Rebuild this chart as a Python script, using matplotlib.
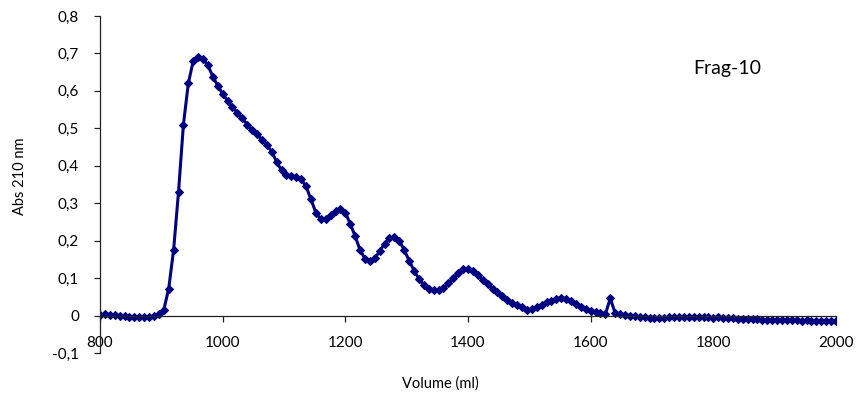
import matplotlib.pyplot as plt
from matplotlib.ticker import FixedLocator, FixedFormatter

plt.rcParams['font.family'] = ['Lato', 'DejaVu Sans']

# elution volume (ml), one fraction every 8 ml
volumes = [
    800, 808, 816, 824, 832, 840, 848, 856, 864, 872, 880, 888, 896, 904, 912, 920,
    928, 936, 944, 952, 960, 968, 976, 984, 992, 1000, 1008, 1016, 1024, 1032, 1040, 1048,
    1056, 1064, 1072, 1080, 1088, 1096, 1104, 1112, 1120, 1128, 1136, 1144, 1152, 1160, 1168, 1176,
    1184, 1192, 1200, 1208, 1216, 1224, 1232, 1240, 1248, 1256, 1264, 1272, 1280, 1288, 1296, 1304,
    1312, 1320, 1328, 1336, 1344, 1352, 1360, 1368, 1376, 1384, 1392, 1400, 1408, 1416, 1424, 1432,
    1440, 1448, 1456, 1464, 1472, 1480, 1488, 1496, 1504, 1512, 1520, 1528, 1536, 1544, 1552, 1560,
    1568, 1576, 1584, 1592, 1600, 1608, 1616, 1624, 1632, 1640, 1648, 1656, 1664, 1672, 1680, 1688,
    1696, 1704, 1712, 1720, 1728, 1736, 1744, 1752, 1760, 1768, 1776, 1784, 1792, 1800, 1808, 1816,
    1824, 1832, 1840, 1848, 1856, 1864, 1872, 1880, 1888, 1896, 1904, 1912, 1920, 1928, 1936, 1944,
    1952, 1960, 1968, 1976, 1984, 1992, 2000,
]

# absorbance at 210 nm
absorbance = [
    0.002, 0.003, 0.002, 0.001, 0.000, -0.002, -0.004, -0.004, -0.004, -0.004, -0.004, -0.002, 0.003, 0.015, 0.072, 0.175,
    0.330, 0.510, 0.620, 0.680, 0.691, 0.686, 0.668, 0.638, 0.614, 0.592, 0.574, 0.556, 0.542, 0.527, 0.510, 0.495,
    0.484, 0.470, 0.456, 0.438, 0.410, 0.388, 0.376, 0.372, 0.371, 0.364, 0.345, 0.310, 0.275, 0.257, 0.258, 0.268,
    0.279, 0.284, 0.275, 0.245, 0.212, 0.175, 0.152, 0.145, 0.153, 0.172, 0.192, 0.206, 0.210, 0.200, 0.175, 0.147,
    0.120, 0.098, 0.082, 0.072, 0.067, 0.068, 0.074, 0.086, 0.100, 0.114, 0.123, 0.125, 0.120, 0.108, 0.095, 0.083,
    0.072, 0.062, 0.051, 0.042, 0.033, 0.027, 0.022, 0.016, 0.017, 0.022, 0.029, 0.035, 0.040, 0.045, 0.048, 0.045,
    0.038, 0.031, 0.024, 0.017, 0.013, 0.009, 0.006, 0.004, 0.046, 0.006, 0.004, 0.002, 0.000, -0.002, -0.004, -0.005,
    -0.006, -0.006, -0.006, -0.006, -0.005, -0.004, -0.005, -0.004, -0.004, -0.004, -0.005, -0.004, -0.005, -0.006, -0.004, -0.006,
    -0.007, -0.007, -0.008, -0.009, -0.008, -0.010, -0.010, -0.011, -0.011, -0.012, -0.012, -0.012, -0.013, -0.013, -0.013, -0.014,
    -0.013, -0.014, -0.014, -0.014, -0.014, -0.014, -0.014,
]

y_ticks = [-0.1, 0, 0.1, 0.2, 0.3, 0.4, 0.5, 0.6, 0.7, 0.8]
y_labels = ["-0,1", "0", "0,1", "0,2", "0,3", "0,4", "0,5", "0,6", "0,7", "0,8"]
x_ticks = [800, 1000, 1200, 1400, 1600, 1800, 2000]
x_labels = ["800", "1000", "1200", "1400", "1600", "1800", "2000"]


def main():
    fig = plt.figure(figsize=(8.59, 4.05), dpi=100)
    ax = fig.add_axes([100 / 859, 52 / 405, 736 / 859, 337 / 405])

    ax.plot(volumes, absorbance, color='#000080', linewidth=2.2,
            marker='D', markersize=3.8, markeredgewidth=0.8)

    ax.set_xlim(800, 2000)
    ax.set_ylim(-0.1, 0.8)

    ax.spines['top'].set_visible(False)
    ax.spines['right'].set_visible(False)
    ax.spines['bottom'].set_position(('data', 0))
    for side in ('left', 'bottom'):
        ax.spines[side].set_linewidth(0.9)
        ax.spines[side].set_color('#222222')

    ax.xaxis.set_major_locator(FixedLocator(x_ticks))
    ax.xaxis.set_major_formatter(FixedFormatter(x_labels))
    ax.yaxis.set_major_locator(FixedLocator(y_ticks))
    ax.yaxis.set_major_formatter(FixedFormatter(y_labels))
    ax.tick_params(axis='x', direction='out', length=4, width=0.9,
                   pad=11, labelsize=11, colors='#222222')
    ax.tick_params(axis='y', direction='out', length=4, width=0.9,
                   pad=11, labelsize=11, colors='#222222')
    for t in ax.get_xticklabels() + ax.get_yticklabels():
        t.set_color('black')

    fig.text(20 / 859, 1 - 176 / 405, "Abs 210 nm", rotation=90,
             ha='center', va='center', fontsize=10.5)
    fig.text(440 / 859, 1 - 384 / 405, "Volume (ml)",
             ha='center', va='center', fontsize=10.5)
    fig.text(693 / 859, 1 - 74 / 405, "Frag-10",
             ha='left', va='baseline', fontsize=14)

    plt.savefig("out.png", dpi=100)


if __name__ == '__main__':
    main()
